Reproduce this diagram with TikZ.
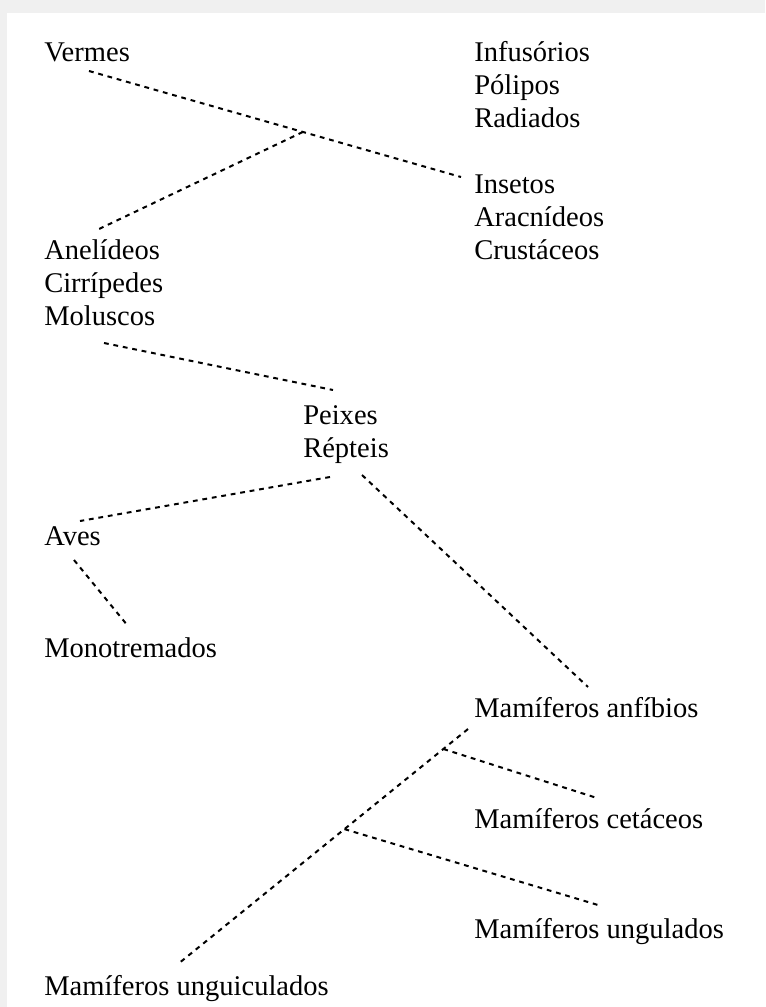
\documentclass[tikz,border=0pt]{standalone}
\usepackage{fontspec}
\setmainfont{Liberation Serif}
\usepackage{tikz}

\begin{document}
\begin{tikzpicture}[
        x = 0.75pt, y = -0.75pt,
        every node/.style = {anchor=base west, inner sep=0pt, font=\fontsize{21.4}{24}\selectfont},
        link/.style = {draw, line width=1.5pt, dash pattern=on 3.6pt off 3.6pt},
      ]

      % window edge
      \fill[gray!12] (0,0) rectangle (765,13);
      \fill[gray!12] (0,0) rectangle (7,1007);
      \useasboundingbox (0,0) rectangle (765,1007);

      \node (vermes)       at (44,61)  {Vermes};
      \node (infusorios)   at (474,61) {Infusórios};
      \node (polipos)      at (474,94) {Pólipos};
      \node (radiados)     at (474,127) {Radiados};
      \node (insetos)      at (474,193) {Insetos};
      \node (aracnideos)   at (474,226) {Aracnídeos};
      \node (crustaceos)   at (474,259) {Crustáceos};
      \node (anelideos)    at (44,259) {Anelídeos};
      \node (cirripedes)   at (44,292) {Cirrípedes};
      \node (moluscos)     at (44,325) {Moluscos};
      \node (peixes)       at (303,424) {Peixes};
      \node (repteis)      at (303,457) {Répteis};
      \node (aves)         at (44,545) {Aves};
      \node (monotremados) at (44,657) {Monotremados};
      \node (anfibios)     at (474,717) {Mamíferos anfíbios};
      \node (cetaceos)     at (474,828) {Mamíferos cetáceos};
      \node (ungulados)    at (474,938) {Mamíferos ungulados};
      \node (unguiculados) at (44,995) {Mamíferos unguiculados};

      \draw[link] ([shift={(45,10)}]vermes.base west) -- coordinate[pos=0.575] (j1) ([shift={(-13,-16)}]insetos.base west);
      \draw[link] (j1) -- ([shift={(55,-30)}]anelideos.base west);
      \draw[link] ([shift={(60,18)}]moluscos.base west) -- ([shift={(30,-34)}]peixes.base west);
      \draw[link] ([shift={(27,20)}]repteis.base west) -- ([shift={(36,-24)}]aves.base west);
      \draw[link] ([shift={(59,18)}]repteis.base west) -- ([shift={(114,-30)}]anfibios.base west);
      \draw[link] ([shift={(30,15)}]aves.base west) -- ([shift={(84,-31)}]monotremados.base west);
      \draw[link] ([shift={(-6,12)}]anfibios.base west) -- coordinate[pos=0.085] (j2) coordinate[pos=0.426] (j3) ([shift={(134,-31)}]unguiculados.base west);
      \draw[link] (j2) -- ([shift={(123,-30)}]cetaceos.base west);
      \draw[link] (j3) -- ([shift={(124,-33)}]ungulados.base west);

    \end{tikzpicture}
\end{document}
